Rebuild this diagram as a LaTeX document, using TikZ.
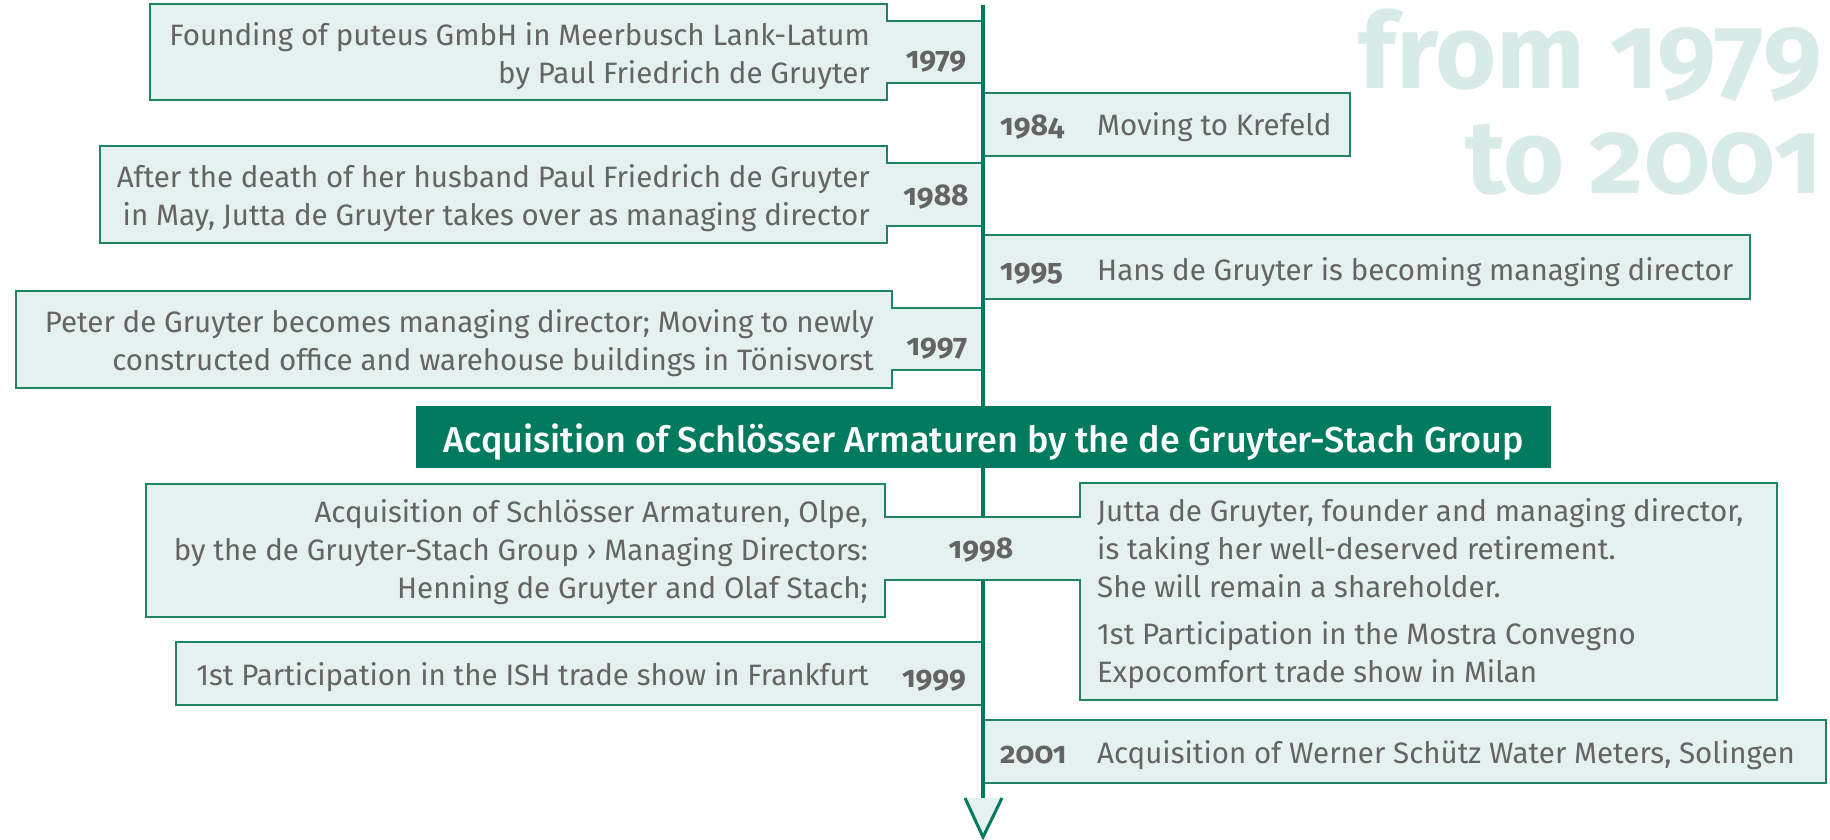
\documentclass[tikz,border=0pt]{standalone}
\usepackage{fontspec}
\setmainfont{Fira Sans}
\newfontfamily\yearfont[Numbers=OldStyle]{Fira Sans}
\newfontfamily\bannerfont{Fira Sans Medium}
\usetikzlibrary{positioning}
\definecolor{pgreen}{HTML}{007B5E}
\definecolor{boxline}{HTML}{1E8464}
\definecolor{boxfill}{HTML}{E5F1EE}
\definecolor{txtgrey}{HTML}{646464}
\definecolor{titlegreen}{HTML}{D8EBE6}
\tikzstyle{evbox}=[draw=boxline,fill=boxfill,line width=2pt]
\tikzstyle{evtext}=[font=\fontsize{29.5}{38}\selectfont,text=txtgrey,inner sep=0pt]
\tikzstyle{year}=[font=\yearfont\bfseries\fontsize{30}{38}\selectfont,text=txtgrey,inner sep=0pt]
\tikzstyle{banner}=[fill=pgreen,text=white,inner sep=0pt,font=\bannerfont\fontsize{36}{44}\selectfont,
  minimum width=1135pt,minimum height=62pt,text height=31.4pt,text depth=0pt]
\tikzstyle{title}=[font=\yearfont\bfseries\fontsize{105}{105}\selectfont,text=titlegreen,inner sep=0pt,align=right]
% left box with a tab running to the time line
\newcommand{\leftbox}[6]{\draw[evbox] (#1,#3) -- (#2,#3) -- (#2,#5) -- (983,#5) -- (983,#6) -- (#2,#6) -- (#2,#4) -- (#1,#4) -- cycle;}

\begin{document}
\begin{tikzpicture}[x=1pt,y=-1pt]
    \useasboundingbox (0,0) rectangle (1830,839);
    \node[title, anchor=base east] (range) at (1822,193) {from 1979\\to 2001};
    % boxes
    \leftbox{150}{887}{4}{100}{21}{83}
    \leftbox{100}{887}{146}{243}{163}{226}
    \leftbox{16}{892}{291}{388}{308}{370}
    \draw[evbox] (146,484) -- (885,484) -- (885,517) -- (1080,517) -- (1080,483) -- (1777,483) -- (1777,700)
        -- (1080,700) -- (1080,580) -- (885,580) -- (885,617) -- (146,617) -- cycle;
    \draw[evbox] (176,642) rectangle (983,705);
    \draw[evbox] (983,93) rectangle (1350,156);
    \draw[evbox] (983,235) rectangle (1750,299);
    \draw[evbox] (983,720) rectangle (1826,783);
    % time line
    \coordinate (start) at (983,5);
    \coordinate (gapa) at (983,517);
    \coordinate (gapb) at (983,580);
    \coordinate (stop) at (983,798);
    \coordinate (tipl) at (965,798);
    \coordinate (tip) at (983,837);
    \coordinate (tipr) at (1002,798);
    \draw[pgreen, line width=3.5pt] (start) -- (gapa);
    \draw[pgreen, line width=3.5pt] (gapb) -- (stop);
    \fill[boxfill] (tipl) -- (tip) -- (tipr) -- cycle;
    \draw[pgreen, line width=3pt] (tipl) -- (tip) -- (tipr);
    \node[banner] (acq) at (983.5,437) {Acquisition of Schlösser Armaturen by the de Gruyter-Stach Group};
    % texts, left side
    \node[evtext, align=right, anchor=base east] (e1979) at (870,83) {Founding of puteus GmbH in Meerbusch Lank-Latum\\by Paul Friedrich de Gruyter};
    \node[year, anchor=base] (y1979) at (936,68) {1979};
    \node[evtext, align=right, anchor=base east] (e1988) at (870,225) {After the death of her husband Paul Friedrich de Gruyter\\in May, Jutta de Gruyter takes over as managing director};
    \node[year, anchor=base] (y1988) at (936,205) {1988};
    \node[evtext, align=right, anchor=base east] (e1997) at (874,370) {Peter de Gruyter becomes managing director; Moving to newly\\constructed office and warehouse buildings in Tönisvorst};
    \node[year, anchor=base] (y1997) at (937,355) {1997};
    \node[evtext, align=right, anchor=base east] (e1998) at (868,598) {Acquisition of Schlösser Armaturen, Olpe,\\by the de Gruyter-Stach Group › Managing Directors:\\Henning de Gruyter and Olaf Stach;};
    \node[year, anchor=base] (y1998) at (981,558) {1998};
    \node[evtext, align=left, anchor=base west] (r1998) at (1097,682) {Jutta de Gruyter, founder and managing director,\\is taking her well-deserved retirement.\\She will remain a shareholder.\\[9pt]1st Participation in the Mostra Convegno\\Expocomfort trade show in Milan};
    \node[evtext, anchor=base east] (e1999) at (869,685) {1st Participation in the ISH trade show in Frankfurt};
    \node[year, anchor=base] (y1999) at (934,687) {1999};
    % texts, right side
    \node[year, anchor=base west] (y1984) at (1000,135) {1984};
    \node[evtext, anchor=base west] (e1984) at (1097,135) {Moving to Krefeld};
    \node[year, anchor=base west] (y1995) at (1000,280) {1995};
    \node[evtext, anchor=base west] (e1995) at (1097,280) {Hans de Gruyter is becoming managing director};
    \node[year, anchor=base west] (y2001) at (1000,763) {2001};
    \node[evtext, anchor=base west] (e2001) at (1097,763) {Acquisition of Werner Schütz Water Meters, Solingen};
\end{tikzpicture}
\end{document}
